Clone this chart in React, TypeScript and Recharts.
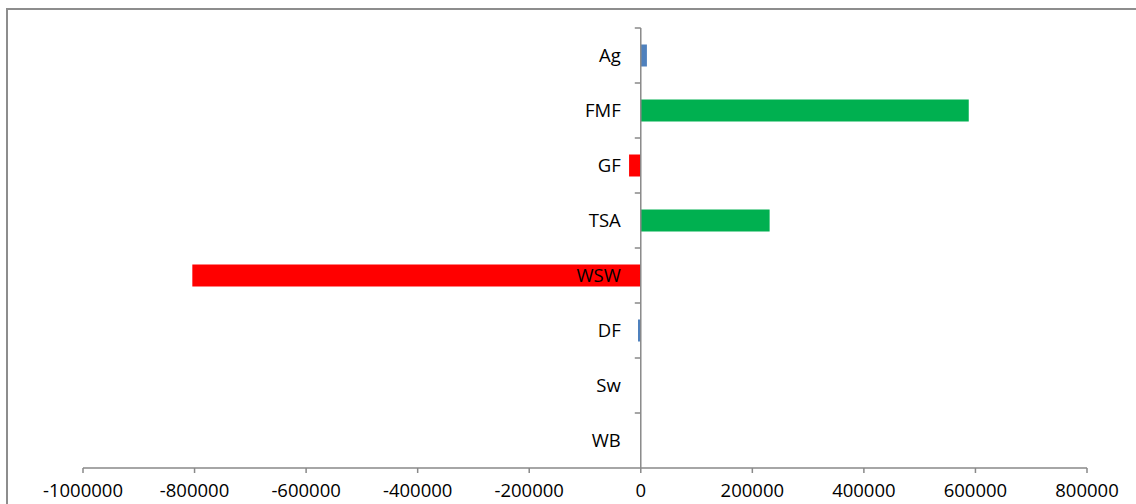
import React from "react";
import { BarChart, Bar, XAxis, YAxis, Cell, ReferenceLine } from "recharts";

const categories = ["Ag", "FMF", "GF", "TSA", "WSW", "DF", "Sw", "WB"];
const values = [11000, 588000, -21000, 231000, -804000, -5000, 0, 0];
const barColors = ["#4F81BD", "#00B050", "#FF0000", "#00B050", "#FF0000", "#4F81BD", "#4F81BD", "#4F81BD"];
const xTicks = [-1000000, -800000, -600000, -400000, -200000, 0, 200000, 400000, 600000, 800000];

const data = categories.map((c, i) => ({ name: c, value: values[i] }));

const W = 1136;
const H = 504;
const YAXIS_W = 20;
const MARGIN = { top: 28, right: 49, bottom: 0, left: 83 - YAXIS_W };
const XAXIS_H = 36;
const X_MIN = -1000000;
const X_MAX = 800000;
const PLOT_LEFT = MARGIN.left + YAXIS_W;
const PLOT_W = W - PLOT_LEFT - MARGIN.right;
const PLOT_H = H - MARGIN.top - MARGIN.bottom - XAXIS_H;
const ZERO_X = PLOT_LEFT + (PLOT_W * (0 - X_MIN)) / (X_MAX - X_MIN);
const BAND = PLOT_H / categories.length;
const AXIS_COLOR = "#898989";
const FONT = "'Open Sans', 'Noto Sans', sans-serif";

const CatTick = (props: any) => {
  const { y, payload } = props;
  return (
    <g>
      <line x1={ZERO_X - 6} x2={ZERO_X} y1={y - BAND / 2} y2={y - BAND / 2} stroke={AXIS_COLOR} strokeWidth={1.5} />
      <text
        x={ZERO_X - 20}
        y={y}
        dy="0.35em"
        textAnchor="end"
        fill="#000"
        fontFamily={FONT}
        fontSize={18.5}
      >
        {payload.value}
      </text>
    </g>
  );
};

export default function App() {
  return (
    <div style={{ position: "absolute", left: 0, top: 0, width: W, height: H, overflow: "hidden", background: "#fff" }}>
      <div style={{ position: "absolute", left: 0, top: 0 }}>
        <BarChart
          width={W}
          height={H}
          data={data}
          layout="vertical"
          margin={MARGIN}
          barCategoryGap="30%"
        >
          <XAxis
            type="number"
            domain={[X_MIN, X_MAX]}
            ticks={xTicks}
            interval={0}
            height={XAXIS_H}
            stroke={AXIS_COLOR}
            strokeWidth={1.5}
            tickSize={5}
            tickMargin={11}
            tick={{ fill: "#000", fontFamily: FONT, fontSize: 18.5 }}
            allowDataOverflow
          />
          <Bar dataKey="value" isAnimationActive={false}>
            {data.map((d, i) => (
              <Cell key={d.name} fill={barColors[i]} />
            ))}
          </Bar>
          <ReferenceLine x={0} stroke={AXIS_COLOR} strokeWidth={1.5} />
          <YAxis
            type="category"
            dataKey="name"
            width={YAXIS_W}
            axisLine={false}
            tickLine={false}
            interval={0}
            tick={CatTick}
          />
        </BarChart>
      </div>
      <div
        style={{
          position: "absolute",
          left: 6,
          top: 8,
          width: W + 20,
          height: H + 20,
          borderTop: "2px solid #8d8d8d",
          borderLeft: "2px solid #8d8d8d",
          pointerEvents: "none",
        }}
      />
    </div>
  );
}
